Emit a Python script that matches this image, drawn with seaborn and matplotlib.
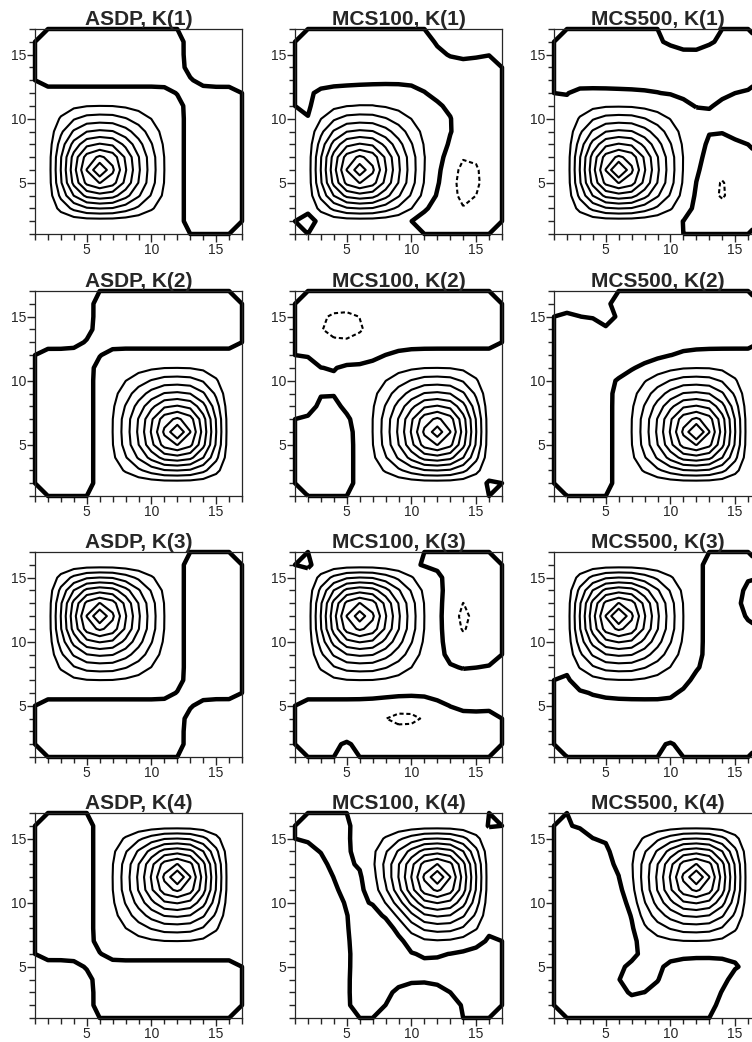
import numpy as np
import matplotlib.pyplot as plt
import seaborn as sns
from matplotlib.ticker import MultipleLocator

# grid points of the kernel maps (1..17 in both directions)
grid = np.arange(1, 18)

# radial fall-off of the kernel away from its peak (distance 0..17)
radius = np.arange(0, 18)
radial = [1.0, 0.82, 0.67, 0.55, 0.45, 0.37, 0.30, 0.25, 0.20, 0.165,
          0.135, 0.11, 0.09, 0.075, 0.06, 0.05, 0.04, 0.033]
# window along one axis for a peak at 6 (x = 1..17); zero near 12.5 and at the border
window = np.array([0.0, 0.11, 0.55, 0.84, 0.98, 1.0, 1.0, 0.91, 0.76,
                   0.55, 0.27, 0.067, -0.08, -0.20, -0.24, -0.22, 0.0])

methods = ['ASDP', 'MCS100', 'MCS500']
kernels = ['K(1)', 'K(2)', 'K(3)', 'K(4)']
peak_x = [6, 12, 6, 12]
peak_y = [6, 6, 12, 12]

pos_levels = [0.1, 0.2, 0.3, 0.4, 0.5, 0.6, 0.7, 0.8, 0.9]
neg_levels = [-0.1]

# local deviations: (x, y, amplitude, width_x, width_y)
asdp_k1 = [(12.5, 12.5, -0.002, 0.8, 0.8)]
asdp_k2 = [(5.5, 12.5, -0.002, 0.8, 0.8)]
asdp_k3 = [(12.5, 5.5, -0.002, 0.8, 0.8)]
asdp_k4 = [(5.5, 5.5, -0.002, 0.8, 0.8)]
mcs100_k1 = [(6, 6, -0.03, 0.3, 0.3), (2.3, 10.5, -0.02, 1.2, 1.0),
             (7.5, 12.0, 0.012, 2.0, 0.8), (13, 2.5, -0.05, 1.5, 1.2),
             (11.5, 1.8, -0.04, 1.0, 0.8), (14.3, 5.3, -0.10, 1.0, 1.7),
             (12.5, 8.5, 0.025, 1.0, 1.5), (12.5, 12.5, -0.01, 1.5, 1.5),
             (15.5, 13, -0.02, 1.5, 1.2), (14.3, 16.2, 0.02, 1.3, 0.7),
             (2, 2, -0.03, 0.5, 0.5)]
mcs500_k1 = [(6, 6, 0.04, 0.3, 0.3), (9, 11.5, -0.015, 4.0, 0.8),
             (15.5, 9.5, 0.045, 1.8, 1.5), (15, 14.5, -0.02, 2.0, 1.5),
             (12.3, 3.5, -0.03, 1.0, 1.8), (13.9, 4.4, -0.09, 0.5, 0.8),
             (10.5, 16.3, 0.025, 1.8, 0.6)]
mcs100_k2 = [(12, 6, -0.04, 0.3, 0.3), (4.6, 14.3, -0.14, 2.0, 1.4),
             (1.8, 9.3, 0.08, 0.8, 1.4), (5.0, 9.3, 0.05, 1.0, 1.3),
             (9, 16.4, 0.025, 0.6, 0.5), (16.2, 1.8, -0.012, 0.4, 0.4)]
mcs500_k2 = [(12, 6, 0.03, 0.3, 0.3), (7.5, 12.0, -0.04, 2.0, 1.0),
             (3, 13, -0.01, 2.2, 1.6), (5.3, 14.5, 0.007, 0.6, 0.7)]
mcs100_k3 = [(6, 12, -0.04, 0.3, 0.3), (2, 16, -0.012, 0.4, 0.4),
             (14.05, 11.9, -0.09, 0.6, 1.3), (9.6, 4.0, -0.12, 1.4, 0.6),
             (15, 7, 0.03, 2.5, 1.0), (15, 2.5, -0.02, 2.5, 1.2),
             (5, 1.8, 0.04, 0.7, 0.5), (11, 16.5, -0.015, 1.0, 1.0)]
mcs500_k3 = [(6, 12, 0.03, 0.3, 0.3), (15, 3, -0.01, 2.0, 2.0),
             (17, 13, 0.12, 0.9, 1.0), (9.5, 1.8, 0.03, 0.5, 0.5),
             (2.5, 6.5, -0.02, 1.8, 1.0), (12.5, 6, -0.02, 1.2, 1.2)]
mcs100_k4 = [(12.3, 12.3, -0.03, 0.3, 0.3), (8.3, 8.5, -0.15, 1.4, 1.6),
             (6.5, 11.5, -0.04, 1.2, 1.2), (7.0, 4.5, -0.03, 0.8, 2.0),
             (2.5, 10, 0.08, 1.7, 3.0), (15, 6, -0.035, 2.0, 1.0),
             (11, 2.3, 0.085, 1.8, 1.2), (16.4, 16.2, -0.012, 0.4, 0.4),
             (2.5, 16.5, -0.03, 1.2, 0.9)]
mcs500_k4 = [(4.2, 15, 0.02, 0.9, 1.5), (6.2, 8.8, -0.08, 1.0, 2.0),
             (3, 3, -0.02, 2.0, 2.0), (8, 4.3, 0.045, 1.2, 1.0),
             (14, 5.5, -0.015, 2.5, 0.8), (15.5, 2.5, 0.05, 1.8, 1.8)]

deviations = [[asdp_k1, mcs100_k1, mcs500_k1],
              [asdp_k2, mcs100_k2, mcs500_k2],
              [asdp_k3, mcs100_k3, mcs500_k3],
              [asdp_k4, mcs100_k4, mcs500_k4]]


def kernel_map(row, col):
    X, Y = np.meshgrid(grid, grid)
    wx = window if peak_x[row] == 6 else window[::-1]
    wy = window if peak_y[row] == 6 else window[::-1]
    r = np.hypot(X - peak_x[row], Y - peak_y[row])
    z = np.interp(r, radius, radial) * np.outer(wy, wx)
    for x0, y0, amp, sx, sy in deviations[row][col]:
        z = z + amp * np.exp(-(X - x0) ** 2 / (2 * sx ** 2) - (Y - y0) ** 2 / (2 * sy ** 2))
    # kernel vanishes on the border
    z[0, :] = z[-1, :] = 1e-6
    z[:, 0] = z[:, -1] = 1e-6
    return z


sns.set_style('ticks')
plt.rcParams['font.family'] = ['Liberation Sans', 'DejaVu Sans']

W, H = 752, 1042
fig = plt.figure(figsize=(W / 100, H / 100), dpi=100)
col_left = [35, 295, 554]
row_top = [29, 291, 552, 813]
ax_w, ax_h = 207, 205

for r, k in enumerate(kernels):
    for c, m in enumerate(methods):
        ax = fig.add_axes([col_left[c] / W, 1 - (row_top[r] + ax_h) / H, ax_w / W, ax_h / H])
        z = kernel_map(r, c)
        ax.contour(grid, grid, z, levels=pos_levels, colors='black', linewidths=1.5)
        cs0 = ax.contour(grid, grid, z, levels=[0], colors='black', linewidths=3.2)
        cs0.set_clip_on(False)
        if z.min() < neg_levels[0]:
            ax.contour(grid, grid, z, levels=neg_levels, colors='black', linewidths=1.5,
                       linestyles=[(0, (2.0, 1.3))])
        ax.set_xlim(1, 17)
        ax.set_ylim(1, 17)
        ax.set_xticks([5, 10, 15])
        ax.set_yticks([5, 10, 15])
        ax.xaxis.set_minor_locator(MultipleLocator(1))
        ax.yaxis.set_minor_locator(MultipleLocator(1))
        ax.tick_params(which='major', direction='out', length=6, width=1, labelsize=10, pad=0.5)
        ax.tick_params(which='minor', direction='out', length=4, width=1)
        for s in ax.spines.values():
            s.set_linewidth(0.9)
        ax.set_title(f'{m}, {k}', fontsize=15, fontweight='bold', pad=2)

fig.savefig('out.png', dpi=100)
